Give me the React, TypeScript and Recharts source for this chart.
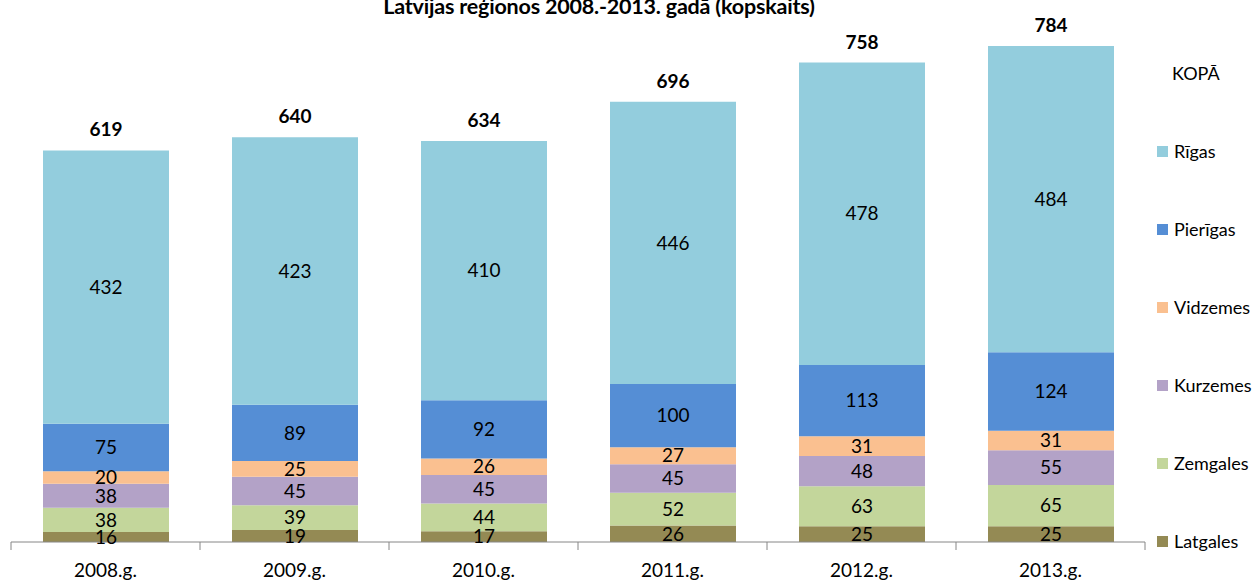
import { Bar, BarChart, XAxis, YAxis, LabelList } from 'recharts';

const years = ['2008.g.', '2009.g.', '2010.g.', '2011.g.', '2012.g.', '2013.g.'];
const latgales = [16, 19, 17, 26, 25, 25];
const zemgales = [38, 39, 44, 52, 63, 65];
const kurzemes = [38, 45, 45, 45, 48, 55];
const vidzemes = [20, 25, 26, 27, 31, 31];
const pierigas = [75, 89, 92, 100, 113, 124];
const rigas = [432, 423, 410, 446, 478, 484];
const totals = [619, 640, 634, 696, 758, 784];

const series = [
    { key: 'Latgales', values: latgales, color: '#948A54' },
    { key: 'Zemgales', values: zemgales, color: '#C3D69B' },
    { key: 'Kurzemes', values: kurzemes, color: '#B3A2C7' },
    { key: 'Vidzemes', values: vidzemes, color: '#FAC090' },
    { key: 'Pierīgas', values: pierigas, color: '#558ED5' },
    { key: 'Rīgas', values: rigas, color: '#93CDDD' },
];

const data = years.map((year, i) => {
    const row: Record<string, string | number> = { year, total: totals[i] };
    series.forEach((s) => {
        row[s.key] = s.values[i];
    });
    return row;
});

const FONT = 'Lato, "Open Sans", sans-serif';
const BAND = (1260 - 11 - 115) / years.length;

const YearTick = (props: any) => {
    const { x, y, payload, index } = props;
    return (
        <g>
            <line x1={x - BAND / 2} y1={y} x2={x - BAND / 2} y2={y + 8} stroke="#868686" />
            {index === years.length - 1 && (
                <line x1={x + BAND / 2} y1={y} x2={x + BAND / 2} y2={y + 8} stroke="#868686" />
            )}
            <text x={x} y={y + 28} dy="0.35em" textAnchor="middle" fontSize={19} fill="#000" fontFamily={FONT}>
                {payload.value}
            </text>
        </g>
    );
};

const legendItems = [{ key: 'KOPĀ', color: '' }, ...series.slice().reverse()];

export default function App() {
    return (
        <div style={{ position: 'absolute', left: 0, top: 0, width: 1260, height: 580, background: '#fff', fontFamily: FONT }}>
            <div
                style={{
                    position: 'absolute',
                    left: 0,
                    width: 1198,
                    top: -6,
                    textAlign: 'center',
                    fontWeight: 'bold',
                    fontSize: 21.5,
                    lineHeight: '24px',
                    letterSpacing: '-0.2px',
                }}
            >
                Latvijas reģionos 2008.-2013. gadā (kopskaits)
            </div>
            <BarChart width={1260} height={580} data={data} margin={{ top: 36, right: 115, bottom: 0, left: 11 }}>
                <YAxis hide domain={[0, 800]} />
                <XAxis
                    dataKey="year"
                    height={38}
                    axisLine={{ stroke: '#868686' }}
                    tickLine={false}
                    tickSize={0}
                    tickMargin={0}
                    interval={0}
                    tick={<YearTick />}
                />
                {series.map((s, idx) => (
                    <Bar key={s.key} dataKey={s.key} stackId="a" fill={s.color} barSize={126} isAnimationActive={false}>
                        <LabelList dataKey={s.key} position="center" fontSize={19} fill="#000" fontFamily={FONT} />
                        {idx === series.length - 1 && (
                            <LabelList
                                dataKey="total"
                                position="top"
                                offset={14}
                                fontSize={19}
                                fontWeight="bold"
                                fill="#000"
                                fontFamily={FONT}
                            />
                        )}
                    </Bar>
                ))}
            </BarChart>
            {legendItems.map((item, i) => (
                <div
                    key={item.key}
                    style={{
                        position: 'absolute',
                        left: item.color ? 1157 : 1172,
                        top: 73 + i * 78 - 11,
                        height: 22,
                        display: 'flex',
                        alignItems: 'center',
                        fontSize: 18,
                        whiteSpace: 'nowrap',
                    }}
                >
                    {item.color && (
                        <span style={{ display: 'inline-block', width: 11, height: 11, background: item.color, marginRight: 6 }} />
                    )}
                    {item.key}
                </div>
            ))}
        </div>
    );
}
